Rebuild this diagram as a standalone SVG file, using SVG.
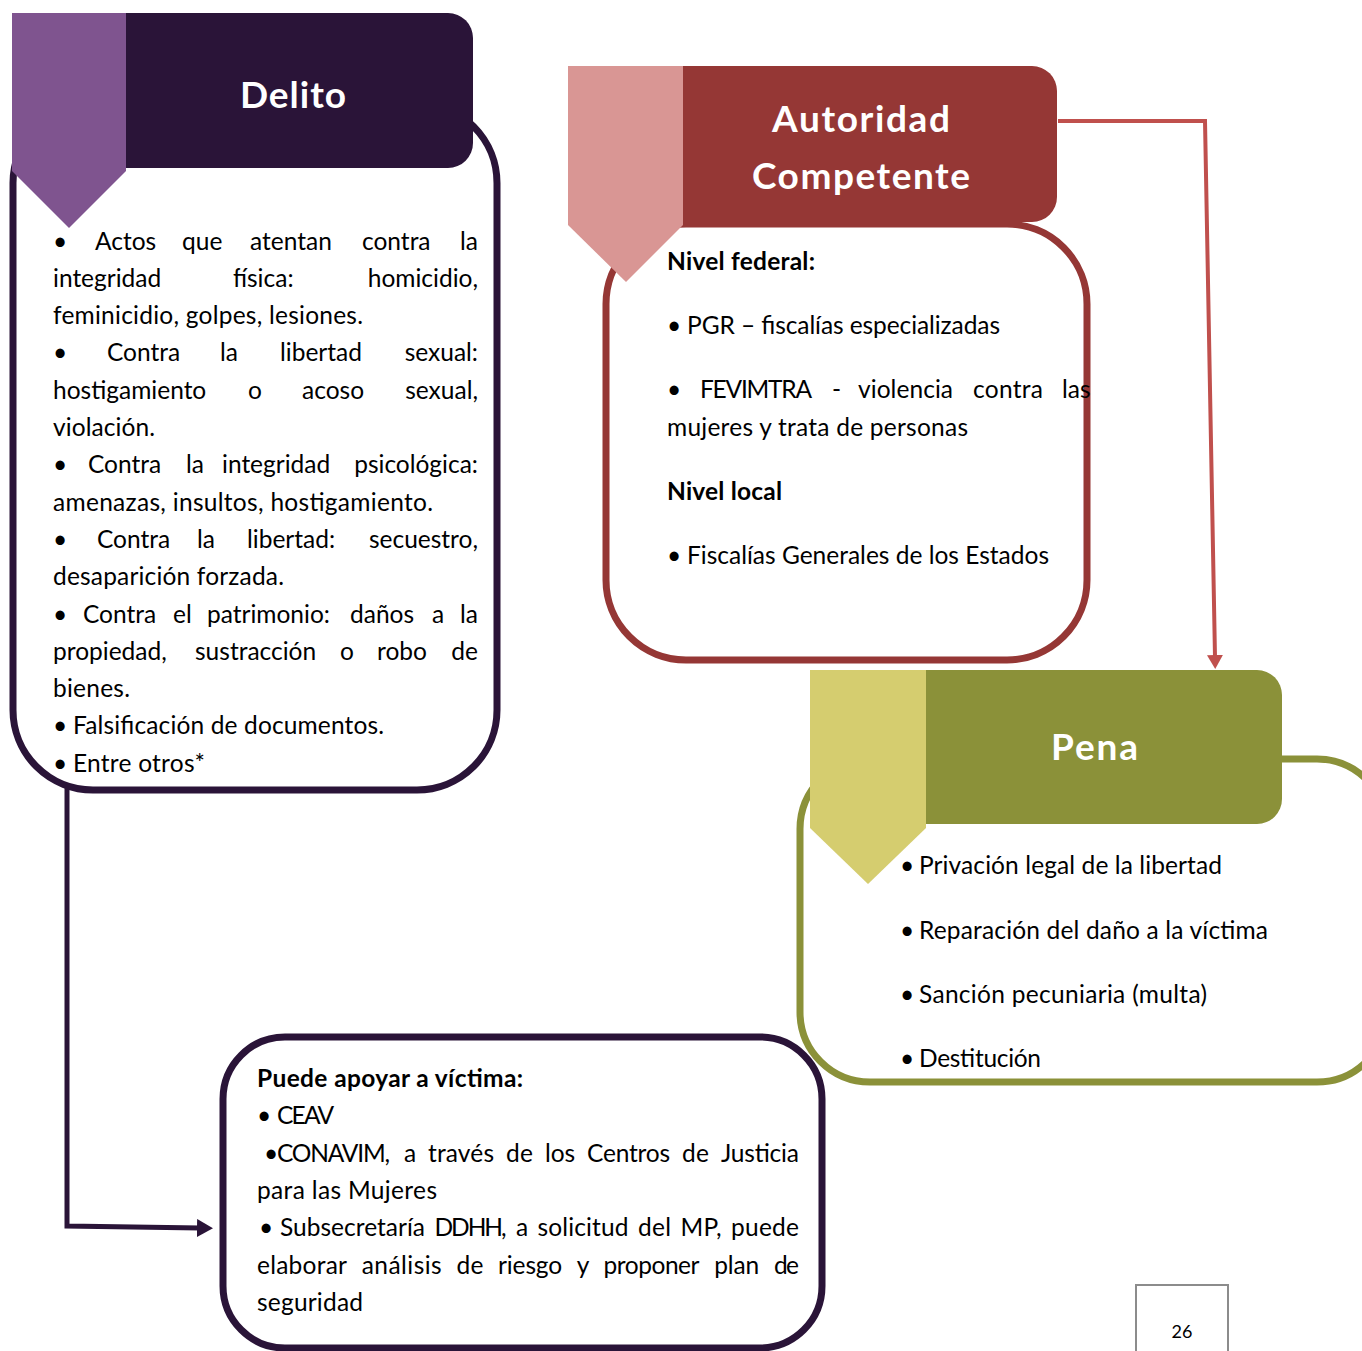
<svg xmlns="http://www.w3.org/2000/svg" width="1362" height="1351" viewBox="0 0 1362 1351">
<defs>
<style>
.t{font-family:Lato,"Open Sans","Liberation Sans",sans-serif;font-size:24.5px;fill:#000}
.b{font-weight:bold}
.e{text-anchor:end}
.title{font-family:Lato,"Open Sans","Liberation Sans",sans-serif;font-weight:bold;font-size:37px;fill:#fff;text-anchor:middle}
.box{fill:#fff;stroke-width:7}
</style>
<marker id="arrP" markerUnits="userSpaceOnUse" markerWidth="17" markerHeight="18" refX="3" refY="9" orient="auto"><path d="M0,0 L16,9 L0,18 Z" fill="#2a1438"/></marker>
<marker id="arrR" markerUnits="userSpaceOnUse" markerWidth="15" markerHeight="16" refX="2" refY="8" orient="auto"><path d="M0,0 L14,8 L0,16 Z" fill="#c0504d"/></marker>
</defs>
<rect x="0" y="0" width="1362" height="1351" fill="#fff"/>

<g id="delito">
<rect class="box" x="13" y="103" width="484" height="687" rx="80" stroke="#2a1438"/>
<path d="M12,13 H448 A25,25 0 0 1 473,38 V143 A25,25 0 0 1 448,168 H12 Z" fill="#2a1438"/>
<path d="M12,13 H126 V171 L69,228 L12,171 Z" fill="#7f548f"/>
<text class="title" x="293" y="108" textLength="106">Delito</text>
<text class="t" x="53" y="249.5">•</text><text class="t" x="95" y="249.5">Actos</text><text class="t" x="182" y="249.5">que</text><text class="t" x="250" y="249.5">atentan</text><text class="t" x="362" y="249.5">contra</text><text class="t e" x="478" y="249.5">la</text>
<text class="t" x="53" y="286.8">integridad</text><text class="t" x="233" y="286.8">física:</text><text class="t e" x="478" y="286.8">homicidio,</text>
<text class="t" x="53" y="324.1" textLength="310">feminicidio, golpes, lesiones.</text>
<text class="t" x="53" y="361.4">•</text><text class="t" x="107" y="361.4">Contra</text><text class="t" x="220" y="361.4">la</text><text class="t" x="280" y="361.4">libertad</text><text class="t e" x="478" y="361.4">sexual:</text>
<text class="t" x="53" y="398.7">hostigamiento</text><text class="t" x="248" y="398.7">o</text><text class="t" x="302" y="398.7">acoso</text><text class="t e" x="478" y="398.7">sexual,</text>
<text class="t" x="53" y="436" textLength="102">violación.</text>
<text class="t" x="53" y="473.3">•</text><text class="t" x="88" y="473.3">Contra</text><text class="t" x="186" y="473.3">la</text><text class="t" x="222" y="473.3">integridad</text><text class="t e" x="478" y="473.3">psicológica:</text>
<text class="t" x="53" y="510.6" textLength="380">amenazas, insultos, hostigamiento.</text>
<text class="t" x="53" y="547.9">•</text><text class="t" x="97" y="547.9">Contra</text><text class="t" x="197" y="547.9">la</text><text class="t" x="247" y="547.9">libertad:</text><text class="t e" x="478" y="547.9">secuestro,</text>
<text class="t" x="53" y="585.2" textLength="231">desaparición forzada.</text>
<text class="t" x="53" y="622.5">•</text><text class="t" x="83" y="622.5">Contra</text><text class="t" x="173" y="622.5">el</text><text class="t" x="207" y="622.5">patrimonio:</text><text class="t" x="350" y="622.5">daños</text><text class="t" x="432" y="622.5">a</text><text class="t e" x="478" y="622.5">la</text>
<text class="t" x="53" y="659.8">propiedad,</text><text class="t" x="195" y="659.8">sustracción</text><text class="t" x="340" y="659.8">o</text><text class="t" x="377" y="659.8">robo</text><text class="t e" x="478" y="659.8">de</text>
<text class="t" x="53" y="697.1" textLength="77">bienes.</text>
<text class="t" x="53" y="734.4">•</text><text class="t" x="73" y="734.4" textLength="311">Falsificación de documentos.</text>
<text class="t" x="53" y="771.7">•</text><text class="t" x="73" y="771.7" textLength="132">Entre otros*</text>
</g>

<g id="autoridad">
<rect class="box" x="606" y="224" width="481" height="436" rx="80" stroke="#953735"/>
<path d="M683,66 H1032 A25,25 0 0 1 1057,91 V197 A25,25 0 0 1 1032,222 H683 Z" fill="#953735"/>
<path d="M568,66 H683 V225 L626,282 L568,225 Z" fill="#d99694"/>
<text class="title" x="861" y="132" textLength="178">Autoridad</text>
<text class="title" x="861" y="189" textLength="218">Competente</text>
<text class="t b" x="667" y="270" textLength="148">Nivel federal:</text>
<text class="t" x="667" y="334">•</text><text class="t" x="687" y="334" textLength="313">PGR – fiscalías especializadas</text>
<text class="t" x="667" y="398">•</text><text class="t" x="700" y="398" textLength="112">FEVIMTRA</text><text class="t" x="832" y="398">-</text><text class="t" x="858" y="398" textLength="95">violencia</text><text class="t" x="973" y="398" textLength="70">contra</text><text class="t" x="1062" y="398">las</text>
<text class="t" x="667" y="436" textLength="301">mujeres y trata de personas</text>
<text class="t b" x="667" y="500" textLength="115">Nivel local</text>
<text class="t" x="667" y="564">•</text><text class="t" x="687" y="564" textLength="362">Fiscalías Generales de los Estados</text>
</g>

<g id="pena">
<rect class="box" x="800" y="759" width="587" height="323" rx="70" stroke="#8b9139"/>
<path d="M926,670 H1257 A25,25 0 0 1 1282,695 V799 A25,25 0 0 1 1257,824 H926 Z" fill="#8b9139"/>
<path d="M810,670 H926 V828 L868,884 L810,828 Z" fill="#d5cd6f"/>
<text class="title" x="1094.5" y="760" textLength="87">Pena</text>
<text class="t" x="900" y="874">•</text><text class="t" x="919" y="874" textLength="303">Privación legal de la libertad</text>
<text class="t" x="900" y="939">•</text><text class="t" x="919" y="939" textLength="349">Reparación del daño a la víctima</text>
<text class="t" x="900" y="1003">•</text><text class="t" x="919" y="1003" textLength="288">Sanción pecuniaria (multa)</text>
<text class="t" x="900" y="1067">•</text><text class="t" x="919" y="1067" textLength="122">Destitución</text>
</g>

<g id="apoyo">
<rect class="box" x="223" y="1037" width="599" height="311" rx="62" stroke="#2a1438"/>
<text class="t b" x="257" y="1087" textLength="266">Puede apoyar a víctima:</text>
<text class="t" x="257" y="1124">•</text><text class="t" x="277" y="1124" textLength="57">CEAV</text>
<text class="t" x="264" y="1162">•</text><text class="t" x="277" y="1162" textLength="113">CONAVIM,</text><text class="t" x="404" y="1162">a</text><text class="t" x="428" y="1162" textLength="66">través</text><text class="t" x="506" y="1162" textLength="27">de</text><text class="t" x="545" y="1162" textLength="30">los</text><text class="t" x="587" y="1162" textLength="83">Centros</text><text class="t" x="682" y="1162" textLength="27">de</text><text class="t" x="721" y="1162" textLength="78">Justicia</text>
<text class="t" x="257" y="1199" textLength="180">para las Mujeres</text>
<text class="t" x="259" y="1236">•</text><text class="t" x="280" y="1236" textLength="145">Subsecretaría</text><text class="t" x="434.5" y="1236" textLength="72">DDHH,</text><text class="t" x="516" y="1236">a</text><text class="t" x="537.5" y="1236" textLength="91">solicitud</text><text class="t" x="638" y="1236" textLength="33">del</text><text class="t" x="680.5" y="1236" textLength="41">MP,</text><text class="t" x="731" y="1236" textLength="68">puede</text>
<text class="t" x="257" y="1274" textLength="90">elaborar</text><text class="t" x="361.7" y="1274" textLength="80">análisis</text><text class="t" x="456.4" y="1274" textLength="27">de</text><text class="t" x="498.1" y="1274" textLength="64">riesgo</text><text class="t" x="576.8" y="1274">y</text><text class="t" x="603.5" y="1274" textLength="96">proponer</text><text class="t" x="714.2" y="1274" textLength="45">plan</text><text class="t" x="774" y="1274" textLength="25">de</text>
<text class="t" x="257" y="1311" textLength="106">seguridad</text>
</g>

<g id="pagina">
<rect x="1136" y="1285" width="92" height="80" fill="#fff" stroke="#8c8c8c" stroke-width="2"/>
<text x="1182" y="1338" font-family="Lato,'Liberation Sans',sans-serif" font-size="18" text-anchor="middle" fill="#000">26</text>
</g>

<g id="connectors" fill="none">
<path d="M67,783 V1226 L200,1228" stroke="#2a1438" stroke-width="5" marker-end="url(#arrP)"/>
<path d="M1058,121 H1205 L1215,657" stroke="#c0504d" stroke-width="4" marker-end="url(#arrR)"/>
</g>
</svg>
